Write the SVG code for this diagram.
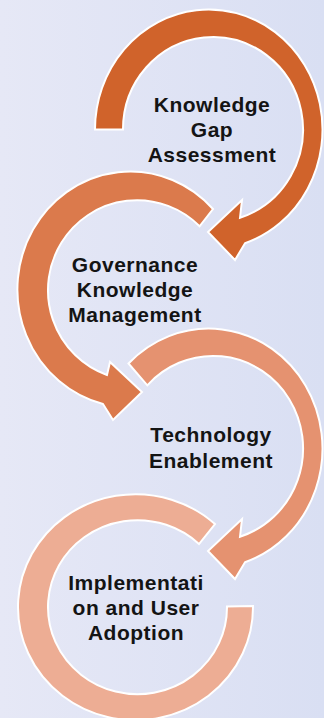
<svg xmlns="http://www.w3.org/2000/svg" width="324" height="718" viewBox="0 0 324 718">
  <defs>
    <linearGradient id="bg" x1="0" y1="0" x2="1" y2="0">
      <stop offset="0" stop-color="#E6E8F6"/>
      <stop offset="1" stop-color="#D9DFF3"/>
    </linearGradient>
  </defs>
  <style>
    .arc { stroke: #FFFFFF; stroke-width: 2; stroke-linejoin: miter; }
    .c1 { fill: #D0632B; }
    .c2 { fill: #DB7A4C; }
    .c3 { fill: #E59270; }
    .c4 { fill: #EDAD94; }
    .lbl { font-family: "Liberation Sans", Arial, sans-serif; font-weight: bold; font-size: 21px; letter-spacing: 0.5px; fill: #141414; text-anchor: middle; }
  </style>
  <rect x="0" y="0" width="324" height="718" fill="url(#bg)"/>

  <g id="node-implementation">
    <path class="arc c4" d="M 215,524 A 117.5 113 0 1 0 253,606 L 227,606.5 A 89.5 87 0 1 1 199,544 Z"/>
    <text class="lbl" x="136" y="590">Implementati</text>
    <text class="lbl" x="136" y="615">on and User</text>
    <text class="lbl" x="136" y="640">Adoption</text>
  </g>

  <g id="node-technology">
    <path class="arc c3" d="M 128.5,363.5 A 113.75 120 0 1 1 245,562.3 L 235,579 L 208,551 L 242,519 L 240,536.7 A 90 92.5 0 1 0 147.3,385.3 Z"/>
    <text class="lbl" x="211" y="442">Technology</text>
    <text class="lbl" x="211" y="468">Enablement</text>
  </g>

  <g id="node-governance">
    <path class="arc c2" d="M 213,209 A 113 118 0 1 0 103,404 L 113,420 L 142,392 L 110,362 L 107,375 A 89 90 0 1 1 199.6,226.3 Z"/>
    <text class="lbl" x="135" y="272">Governance</text>
    <text class="lbl" x="135" y="297">Knowledge</text>
    <text class="lbl" x="135" y="322">Management</text>
  </g>

  <g id="node-knowledge-gap">
    <path class="arc c1" d="M 95,129.5 A 113.75 120 0 1 1 245,243.3 L 235,260 L 208,232 L 242,200 L 240,217.7 A 90 92.5 0 1 0 123,129.5 Z"/>
    <text class="lbl" x="212" y="112">Knowledge</text>
    <text class="lbl" x="212" y="137">Gap</text>
    <text class="lbl" x="212" y="162">Assessment</text>
  </g>

  <g id="connectors"/>
</svg>
